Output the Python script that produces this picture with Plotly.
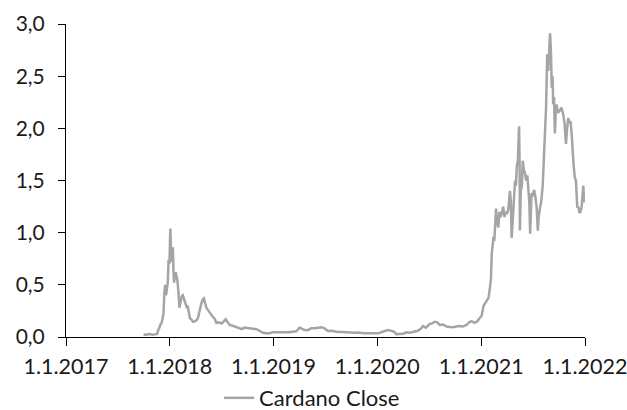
import plotly.graph_objects as go

dates = [
    "2017-10-01", "2017-10-10", "2017-10-20", "2017-11-01", "2017-11-10", "2017-11-17", "2017-11-22",
    "2017-11-26", "2017-11-29", "2017-12-03", "2017-12-07", "2017-12-10", "2017-12-13", "2017-12-16",
    "2017-12-19", "2017-12-22", "2017-12-25", "2017-12-28", "2017-12-31", "2018-01-03", "2018-01-05",
    "2018-01-07", "2018-01-09", "2018-01-12", "2018-01-14", "2018-01-16", "2018-01-19", "2018-01-22",
    "2018-01-25", "2018-01-28", "2018-01-31", "2018-02-04", "2018-02-08", "2018-02-12", "2018-02-16",
    "2018-02-20", "2018-02-24", "2018-03-01", "2018-03-05", "2018-03-09", "2018-03-13", "2018-03-18",
    "2018-03-24", "2018-03-30", "2018-04-05", "2018-04-10", "2018-04-17", "2018-04-22", "2018-04-27",
    "2018-05-01", "2018-05-05", "2018-05-10", "2018-05-15", "2018-05-22", "2018-05-27", "2018-06-03",
    "2018-06-09", "2018-06-14", "2018-06-22", "2018-07-02", "2018-07-10", "2018-07-17", "2018-07-24",
    "2018-07-31", "2018-08-08", "2018-08-17", "2018-08-26", "2018-09-04", "2018-09-12", "2018-09-21",
    "2018-09-30", "2018-10-09", "2018-10-20", "2018-11-02", "2018-11-14", "2018-11-25", "2018-12-07",
    "2018-12-19", "2018-12-28", "2019-01-11", "2019-01-25", "2019-02-15", "2019-02-25", "2019-03-10",
    "2019-03-22", "2019-04-03", "2019-04-12", "2019-04-20", "2019-05-01", "2019-05-14", "2019-05-25",
    "2019-06-05", "2019-06-19", "2019-06-28", "2019-07-12", "2019-07-25", "2019-08-11", "2019-08-28",
    "2019-09-10", "2019-09-27", "2019-10-15", "2019-10-28", "2019-11-13", "2019-11-28", "2019-12-15",
    "2020-01-05", "2020-01-20", "2020-02-07", "2020-02-18", "2020-03-01", "2020-03-08", "2020-03-20",
    "2020-04-01", "2020-04-12", "2020-04-25", "2020-05-08", "2020-05-23", "2020-06-03", "2020-06-10",
    "2020-06-20", "2020-07-03", "2020-07-12", "2020-07-21", "2020-07-30", "2020-08-08", "2020-08-20",
    "2020-09-01", "2020-09-12", "2020-09-24", "2020-10-05", "2020-10-17", "2020-10-28", "2020-11-10",
    "2020-11-21", "2020-11-28", "2020-12-09", "2020-12-18", "2020-12-26", "2021-01-02", "2021-01-09",
    "2021-01-15", "2021-01-21", "2021-01-27", "2021-02-01", "2021-02-04", "2021-02-07", "2021-02-10",
    "2021-02-13", "2021-02-16", "2021-02-19", "2021-02-22", "2021-02-26", "2021-03-02", "2021-03-06",
    "2021-03-10", "2021-03-14", "2021-03-19", "2021-03-24", "2021-03-28", "2021-04-01", "2021-04-06",
    "2021-04-12", "2021-04-15", "2021-04-18", "2021-04-22", "2021-04-26", "2021-04-30", "2021-05-03",
    "2021-05-06", "2021-05-10", "2021-05-14", "2021-05-16", "2021-05-17", "2021-05-20", "2021-05-24",
    "2021-05-27", "2021-05-31", "2021-06-04", "2021-06-08", "2021-06-12", "2021-06-16", "2021-06-19",
    "2021-06-22", "2021-06-25", "2021-06-27", "2021-07-01", "2021-07-06", "2021-07-10", "2021-07-15",
    "2021-07-19", "2021-07-22", "2021-07-27", "2021-07-31", "2021-08-05", "2021-08-09", "2021-08-13",
    "2021-08-17", "2021-08-21", "2021-08-25", "2021-08-28", "2021-08-31", "2021-09-03", "2021-09-06",
    "2021-09-09", "2021-09-11", "2021-09-14", "2021-09-17", "2021-09-20", "2021-09-23", "2021-09-28",
    "2021-10-05", "2021-10-10", "2021-10-16", "2021-10-21", "2021-10-26", "2021-10-30", "2021-11-03",
    "2021-11-07", "2021-11-11", "2021-11-15", "2021-11-18", "2021-11-22", "2021-11-26", "2021-11-30",
    "2021-12-05", "2021-12-09", "2021-12-12", "2021-12-16", "2021-12-20", "2021-12-24", "2021-12-26",
    "2021-12-29",
]

close = [
    0.025, 0.022, 0.028, 0.022, 0.025, 0.03, 0.07,
    0.09, 0.12, 0.13, 0.18, 0.23, 0.42, 0.50,
    0.40, 0.45, 0.52, 0.74, 0.70, 1.04, 0.80,
    0.72, 0.83, 0.86, 0.65, 0.52, 0.60, 0.62,
    0.58, 0.54, 0.45, 0.28, 0.33, 0.39, 0.40,
    0.37, 0.33, 0.29, 0.30, 0.22, 0.18, 0.17,
    0.145, 0.15, 0.16, 0.18, 0.28, 0.32, 0.36,
    0.37, 0.33, 0.28, 0.26, 0.23, 0.21, 0.19,
    0.17, 0.135, 0.14, 0.13, 0.15, 0.17, 0.14,
    0.115, 0.11, 0.10, 0.095, 0.085, 0.075, 0.09,
    0.085, 0.085, 0.08, 0.075, 0.06, 0.04, 0.035,
    0.035, 0.045, 0.045, 0.04, 0.04, 0.045, 0.05,
    0.055, 0.09, 0.08, 0.067, 0.065, 0.083, 0.085,
    0.088, 0.093, 0.085, 0.057, 0.06, 0.05, 0.048,
    0.045, 0.042, 0.04, 0.042, 0.035, 0.036, 0.033,
    0.035, 0.05, 0.067, 0.06, 0.05, 0.026, 0.03,
    0.03, 0.045, 0.04, 0.05, 0.06, 0.08, 0.105,
    0.09, 0.124, 0.13, 0.146, 0.14, 0.115, 0.12,
    0.10, 0.095, 0.093, 0.10, 0.105, 0.10, 0.115,
    0.146, 0.15, 0.136, 0.15, 0.18, 0.20, 0.30,
    0.32, 0.35, 0.38, 0.48, 0.55, 0.80, 0.88,
    0.96, 0.92, 1.12, 1.23, 1.10, 1.05, 1.20,
    1.15, 1.18, 1.25, 1.15, 1.20, 1.18, 1.22,
    1.40, 1.30, 0.95, 1.15, 1.25, 1.50, 1.45,
    1.63, 1.70, 2.02, 1.65, 1.02, 1.40, 1.45,
    1.69, 1.60, 1.57, 1.50, 1.55, 1.38, 1.30,
    0.99, 1.20, 1.38, 1.35, 1.41, 1.35, 1.24,
    1.02, 1.15, 1.24, 1.30, 1.44, 1.70, 2.07,
    2.20, 2.71, 2.55, 2.75, 2.91, 2.75, 2.39,
    2.50, 2.23, 2.30, 1.95, 2.15, 2.23, 2.15,
    2.17, 2.20, 2.14, 2.05, 1.85, 2.00, 2.10,
    2.05, 2.07, 1.95, 1.76, 1.65, 1.53, 1.50,
    1.24, 1.25, 1.19, 1.20, 1.24, 1.38, 1.45,
    1.29,
]

x_tick_vals = ["2017-01-01", "2018-01-01", "2019-01-01", "2020-01-01", "2021-01-01", "2022-01-01"]
x_tick_text = ["1.1.2017", "1.1.2018", "1.1.2019", "1.1.2020", "1.1.2021", "1.1.2022"]
y_tick_vals = [0.0, 0.5, 1.0, 1.5, 2.0, 2.5, 3.0]

FONT = "Lato"
TXT = "#1a1a1a"

fig = go.Figure()
fig.add_trace(go.Scatter(
    x=dates, y=close, mode="lines", name="Cardano Close",
    line=dict(color="#A5A5A5", width=2.5),
))

fig.update_layout(
    width=627, height=410,
    margin=dict(l=66, r=42, t=24, b=73, autoexpand=False),
    paper_bgcolor="white", plot_bgcolor="white",
    separators=", ",
    font=dict(family=FONT, size=21, color=TXT),
    showlegend=True,
    legend=dict(orientation="h", x=0.295, xanchor="left", y=-0.195, yanchor="middle",
                font=dict(family=FONT, size=22, color=TXT)),
    xaxis=dict(
        type="date", range=["2017-01-01", "2022-01-01"], automargin=False,
        tickmode="array", tickvals=x_tick_vals, ticktext=x_tick_text,
        showgrid=False, zeroline=False,
        showline=True, linecolor="#000000", linewidth=1,
        ticks="outside", ticklen=8, tickcolor="#000000",
        tickfont=dict(family=FONT, size=21.5, color=TXT),
        ticklabelstandoff=2, ticklabeloverflow="allow",
    ),
    yaxis=dict(
        range=[0, 3.0], tickmode="array", tickvals=y_tick_vals, tickformat=".1f",
        automargin=False,
        showgrid=False, zeroline=False,
        showline=True, linecolor="#000000", linewidth=1,
        ticks="outside", ticklen=7, tickcolor="#000000",
        tickfont=dict(family=FONT, size=21, color=TXT),
        ticklabelstandoff=9,
    ),
)

# Remove the page's default body margin and scrollbars so the figure fills the window.
page_css = (
    "document.body.style.margin='0';"
    "document.body.style.overflow='hidden';"
    "document.documentElement.style.overflow='hidden';"
)

fig.write_html("out.html", post_script=page_css, config={"displayModeBar": False})
